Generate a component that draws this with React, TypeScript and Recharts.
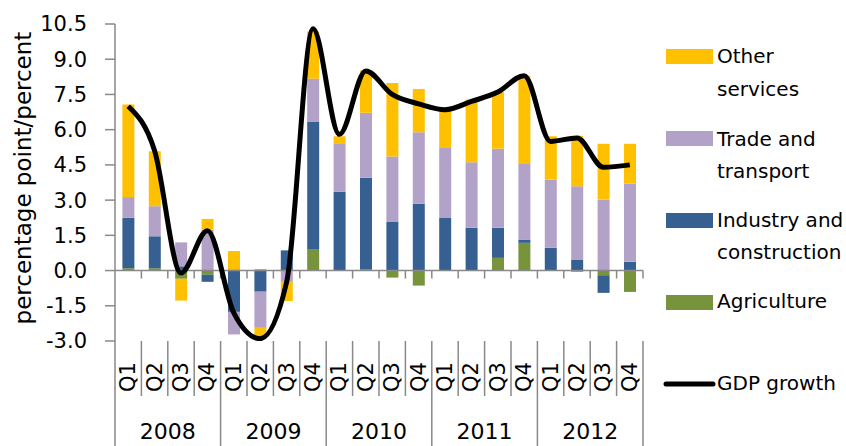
import React from "react";
import { ComposedChart, Bar, Line, XAxis, YAxis, ReferenceLine } from "recharts";

const years = ["2008", "2009", "2010", "2011", "2012"];
const quarters = ["Q1", "Q2", "Q3", "Q4"];

// contributions, percentage points
const agriculture = [0.1, 0.1, -0.35, -0.18, 0.05, 0.05, 0, 0.92, 0, 0.05, -0.3, -0.64, 0, 0.02, 0.54, 1.18, 0, -0.05, -0.2, -0.91];
const industry = [2.15, 1.36, 0.18, -0.3, -1.76, -0.9, 0.86, 5.43, 3.35, 3.9, 2.07, 2.85, 2.24, 1.8, 1.28, 0.14, 0.97, 0.47, -0.75, 0.37];
const trade = [0.88, 1.28, 1.02, 1.74, -0.96, -1.54, -0.48, 1.82, 2.04, 2.77, 2.79, 3.04, 2.98, 2.79, 3.37, 3.22, 2.9, 3.12, 3.02, 3.33];
const otherServices = [3.94, 2.34, -0.93, 0.46, 0.78, -0.38, -0.82, 2.01, 0.33, 1.8, 3.13, 1.84, 1.59, 2.67, 2.4, 3.76, 1.85, 2.15, 2.38, 1.7];
const gdp = [7.0, 5.1, -0.1, 1.7, -1.8, -2.9, -0.5, 10.3, 5.8, 8.5, 7.5, 7.1, 6.85, 7.2, 7.6, 8.3, 5.5, 5.65, 4.4, 4.5];

const yTicks = [-3, -1.5, 0, 1.5, 3, 4.5, 6, 7.5, 9, 10.5];

const data = years.flatMap((year, yi) =>
  quarters.map((q, qi) => {
    const i = yi * 4 + qi;
    return {
      period: `${year} ${q}`,
      year,
      q,
      agriculture: agriculture[i],
      industry: industry[i],
      trade: trade[i],
      other: otherServices[i],
      gdp: gdp[i],
    };
  })
);

const FONT = "DejaVu Sans";
const GRID = "#898989";

const COLORS = {
  other: "#FFC000",
  trade: "#B3A2C7",
  industry: "#376092",
  agriculture: "#77933C",
};

function QuarterTick(props: any) {
  const { x, y, payload, index, width, visibleTicksCount } = props;
  const bw = width && visibleTicksCount ? width / visibleTicksCount : 26.4;
  const q = data[payload.index ?? index]?.q ?? "";
  return (
    <g>
      <line x1={x - bw / 2} x2={x - bw / 2} y1={y} y2={y + 55} stroke={GRID} strokeWidth={1.5} />
      {index === visibleTicksCount - 1 && (
        <line x1={x + bw / 2} x2={x + bw / 2} y1={y} y2={y + 55} stroke={GRID} strokeWidth={1.5} />
      )}
      <text
        transform={`translate(${x},${y + 36}) rotate(-90)`}
        textAnchor="middle"
        dominantBaseline="central"
        fontSize={21}
        fontFamily={FONT}
        fill="#000"
      >
        {q}
      </text>
    </g>
  );
}

function YearTick(props: any) {
  const { x, y, payload, index, width, visibleTicksCount } = props;
  const bw = width && visibleTicksCount ? width / visibleTicksCount : 105.6;
  return (
    <g>
      <line x1={x - bw / 2} x2={x - bw / 2} y1={y} y2={y + 50} stroke={GRID} strokeWidth={1.5} />
      {index === visibleTicksCount - 1 && (
        <line x1={x + bw / 2} x2={x + bw / 2} y1={y} y2={y + 50} stroke={GRID} strokeWidth={1.5} />
      )}
      <text x={x} y={y + 35} textAnchor="middle" dominantBaseline="central" fontSize={22} fontFamily={FONT} fill="#000">
        {payload.value}
      </text>
    </g>
  );
}

function ZeroLine(props: any) {
  const { x1, x2, y1 } = props;
  const step = (x2 - x1) / data.length;
  return (
    <g>
      <line x1={x1} x2={x2} y1={y1} y2={y1} stroke={GRID} strokeWidth={1.5} />
      {data.map((_, i) => (
        <line key={i} x1={x1 + step * (i + 1)} x2={x1 + step * (i + 1)} y1={y1} y2={y1 + 8} stroke={GRID} strokeWidth={1.5} />
      ))}
    </g>
  );
}

const legendItems = [
  { lines: ["Other", "services"], color: COLORS.other, swatchTop: 49, baselines: [63, 96] },
  { lines: ["Trade and", "transport"], color: COLORS.trade, swatchTop: 131, baselines: [146, 178] },
  { lines: ["Industry and", "construction"], color: COLORS.industry, swatchTop: 213, baselines: [227, 259] },
  { lines: ["Agriculture"], color: COLORS.agriculture, swatchTop: 295, baselines: [308] },
];

function ChartLegend() {
  return (
    <svg width={196} height={446} style={{ position: "absolute", left: 650, top: 0 }}>
      {legendItems.map((it) => (
        <g key={it.lines[0]}>
          <rect x={16} y={it.swatchTop} width={47} height={15} fill={it.color} />
          {it.lines.map((l, j) => (
            <text key={l} x={67} y={it.baselines[j]} fontSize={20} fontFamily={FONT} fill="#000">
              {l}
            </text>
          ))}
        </g>
      ))}
      <line x1={16} x2={63} y1={384} y2={384} stroke="#000" strokeWidth={5} strokeLinecap="round" />
      <text x={67} y={390} fontSize={20} fontFamily={FONT} fill="#000">
        GDP growth
      </text>
    </svg>
  );
}

export default function App() {
  return (
    <div style={{ position: "absolute", left: 0, top: 0, width: 846, height: 446, background: "#fff" }}>
      <ComposedChart
        width={846}
        height={446}
        data={data}
        stackOffset="sign"
        barCategoryGap="28%"
        margin={{ top: 24, right: 203, left: 0, bottom: 0 }}
      >
        <XAxis
          xAxisId="q"
          dataKey="period"
          height={55}
          interval={0}
          tickSize={0}
          tickMargin={0}
          axisLine={false}
          tickLine={false}
          tick={<QuarterTick />}
        />
        <XAxis
          xAxisId="year"
          dataKey="year"
          allowDuplicatedCategory={false}
          height={50}
          interval={0}
          tickSize={0}
          tickMargin={0}
          axisLine={false}
          tickLine={false}
          tick={<YearTick />}
        />
        <YAxis
          width={115}
          domain={[-3, 10.5]}
          ticks={yTicks}
          interval={0}
          allowDataOverflow
          tickFormatter={(v: number) => v.toFixed(1)}
          axisLine={{ stroke: GRID, strokeWidth: 1.5 }}
          tickLine={{ stroke: GRID, strokeWidth: 1.5 }}
          tickSize={10}
          tickMargin={18}
          tick={{ fontSize: 21, fontFamily: FONT, fill: "#000" }}
          label={() => (
            <text
              transform="translate(23,178) rotate(-90)"
              textAnchor="middle"
              dominantBaseline="central"
              fontSize={23}
              fontFamily={FONT}
              fill="#000"
            >
              percentage point/percent
            </text>
          )}
        />
        <Bar xAxisId="q" dataKey="agriculture" stackId="a" fill={COLORS.agriculture} isAnimationActive={false} />
        <Bar xAxisId="q" dataKey="industry" stackId="a" fill={COLORS.industry} isAnimationActive={false} />
        <Bar xAxisId="q" dataKey="trade" stackId="a" fill={COLORS.trade} isAnimationActive={false} />
        <Bar xAxisId="q" dataKey="other" stackId="a" fill={COLORS.other} isAnimationActive={false} />
        <ReferenceLine xAxisId="q" y={0} shape={<ZeroLine />} />
        <Line
          xAxisId="q"
          dataKey="gdp"
          type="monotone"
          stroke="#000"
          strokeWidth={5}
          dot={false}
          isAnimationActive={false}
        />
      </ComposedChart>
      <ChartLegend />
    </div>
  );
}
